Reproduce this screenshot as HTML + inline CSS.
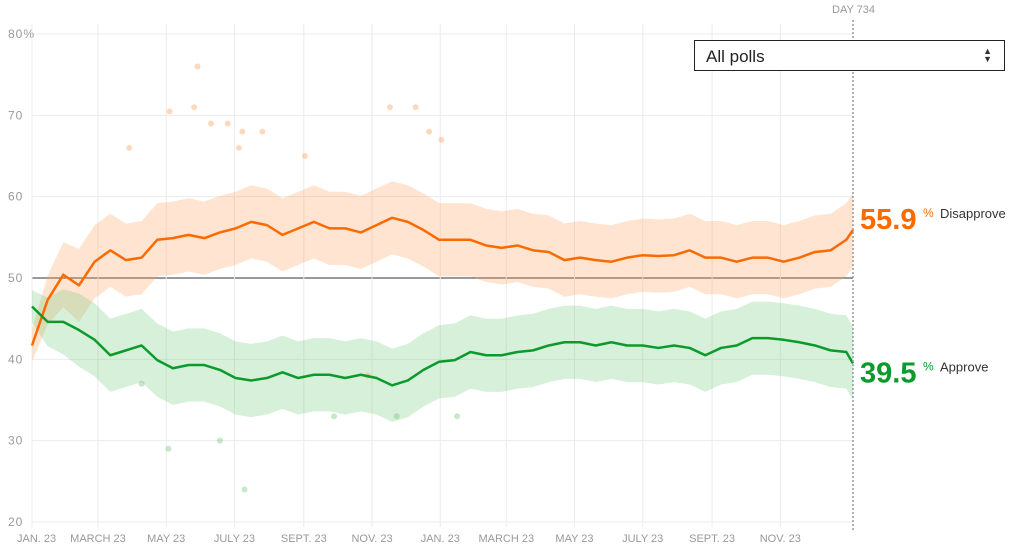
<!DOCTYPE html>
<html><head><meta charset="utf-8">
<style>
html,body{margin:0;padding:0;background:#fff;}
body{width:1017px;height:554px;overflow:hidden;position:relative;font-family:"Liberation Sans",sans-serif;}
#sel{position:absolute;left:694px;top:40px;width:311px;height:31px;border:1.5px solid #222;background:#fff;box-sizing:border-box;}
#sel span{position:absolute;left:11px;top:6px;font-size:17px;color:#222;}
#sel i{position:absolute;right:12px;top:6px;font-style:normal;font-size:9px;line-height:8px;color:#333;}
</style></head><body>
<svg id="chart" width="1017" height="554" style="position:absolute;left:0;top:0"></svg>
<div id="sel"><span>All polls</span><i>▲<br>▼</i></div>
<script>
const days=[0,14,28,42,56,70,84,98,112,126,140,154,168,182,196,210,224,238,252,266,280,294,308,322,336,350,364,378,392,406,420,434,448,462,476,490,504,518,532,546,560,574,588,602,616,630,644,658,672,686,700,714,728,734];
const disapprove=[41.7,47.3,50.4,49.1,52,53.4,52.2,52.5,54.7,54.9,55.3,54.9,55.6,56.1,56.9,56.5,55.3,56.1,56.9,56.1,56.1,55.6,56.5,57.4,56.9,55.9,54.7,54.7,54.7,54.0,53.7,54.0,53.4,53.2,52.2,52.5,52.2,52.0,52.5,52.8,52.7,52.8,53.4,52.5,52.5,52.0,52.5,52.5,52.0,52.5,53.2,53.4,54.7,55.9];
const approve=[46.5,44.6,44.6,43.6,42.4,40.5,41.1,41.7,39.9,38.9,39.3,39.3,38.7,37.7,37.4,37.7,38.4,37.7,38.1,38.1,37.7,38.1,37.7,36.8,37.4,38.7,39.7,39.9,40.9,40.5,40.5,40.9,41.1,41.7,42.1,42.1,41.7,42.1,41.7,41.7,41.4,41.7,41.4,40.5,41.4,41.7,42.6,42.6,42.4,42.1,41.7,41.1,40.9,39.5];
const bandWidth=[2,3,4,4.5,4.5,4.5,4.5,4.5,4.5,4.5,4.5,4.5,4.5,4.5,4.5,4.5,4.5,4.5,4.5,4.5,4.5,4.5,4.5,4.5,4.5,4.5,4.5,4.5,4.5,4.5,4.5,4.5,4.5,4.5,4.5,4.5,4.5,4.5,4.5,4.5,4.5,4.5,4.5,4.5,4.5,4.5,4.5,4.5,4.5,4.5,4.5,4.5,4.5,4.5];
const outlierDays=[87,123,148,145,160,175,185,188,206,244,320,343,355,366,98,300,122,168,326,190,270,380];
const outlierVals=[66,70.5,76,71,69,69,66,68,68,65,71,71,68,67,37,38,29,30,33,24,33,33];
const outlierType=['d','d','d','d','d','d','d','d','d','d','d','d','d','d','a','d','a','a','a','a','a','a'];
const yTicks=[20,30,40,50,60,70,80];
const monthDays=[0,59,120,181,243,304,365,424,485,546,608,669];
const monthLabels=["JAN. 23","MARCH 23","MAY 23","JULY 23","SEPT. 23","NOV. 23","JAN. 23","MARCH 23","MAY 23","JULY 23","SEPT. 23","NOV. 23"];

const svg=document.getElementById('chart');
const NS='http://www.w3.org/2000/svg';
const X=d=>32+d*(821/734);
const Y=v=>34+(80-v)*8.133;
function mk(t,a,p){const e=document.createElementNS(NS,t);for(const k in a)e.setAttribute(k,a[k]);(p||svg).appendChild(e);return e;}

yTicks.forEach((v,i)=>{
  const l=mk('line',{x1:32,x2:853,y1:Y(v),y2:Y(v),stroke:v===50?'#333':'#ebebeb','stroke-width':1});
  
  
  const t=mk('text',{x:8,y:Y(v)+4,'font-size':12,fill:'#999','letter-spacing':'1'});
  t.textContent=v+(i===yTicks.length-1?'%':'');
  
  
});
monthDays.forEach((d,i)=>{
  const l=mk('line',{x1:X(d),x2:X(d),y1:24,y2:527,stroke:'#ebebeb','stroke-width':1});
  
  
  const t=mk('text',{x:X(d),y:542,'font-size':11,fill:'#999','text-anchor':i===0?'start':'middle'});
  if(i===0)t.setAttribute('x',17);
  t.textContent=monthLabels[i];
  
  
});

function band(vals,fill,name){
  let up=vals.map((v,i)=>X(days[i])+','+Y(v+bandWidth[i]));
  let lo=vals.map((v,i)=>X(days[i])+','+Y(v-bandWidth[i])).reverse();
  const p=mk('polygon',{points:up.concat(lo).join(' '),fill:fill});
  
  
}
band(disapprove,'rgba(255,160,90,0.28)','disapprove-band');
band(approve,'rgba(110,200,120,0.28)','approve-band');
outlierDays.forEach((d,i)=>{
  const c=mk('circle',{cx:X(d),cy:Y(outlierVals[i]),r:3,fill:outlierType[i]==='d'?'rgba(255,160,90,0.4)':'rgba(110,200,120,0.4)'});
  
  
});
function line(vals,col,name){
  const p=mk('polyline',{points:vals.map((v,i)=>X(days[i])+','+Y(v)).join(' '),fill:'none',stroke:col,'stroke-width':2.5,'stroke-linejoin':'round'});
  
  
}
line(disapprove,'#f96a00','disapprove-line');
line(approve,'#0b9a2b','approve-line');

const dl=mk('line',{x1:853,x2:853,y1:20,y2:530,stroke:'#999','stroke-width':1.5,'stroke-dasharray':'2,2'});


const dt=mk('text',{x:832,y:13,'font-size':11,fill:'#999'});dt.textContent='DAY 734';



function endLabel(v,col,txt,name,dy){
  const y=Y(v)+dy;
  const t=mk('text',{x:860,y:y,'font-size':29,'font-weight':'bold',fill:col});t.textContent=v.toFixed(1);
  
  
  const p=mk('text',{x:923,y:y-12,'font-size':12,fill:col});p.textContent='%';
  
  
  const l=mk('text',{x:940,y:y-11,'font-size':13,fill:'#333'});l.textContent=txt;
  
  
}
endLabel(disapprove[disapprove.length-1],'#f96a00','Disapprove','disapprove',-1);
endLabel(approve[approve.length-1],'#0b9a2b','Approve','approve',19);
</script>
</body></html>
